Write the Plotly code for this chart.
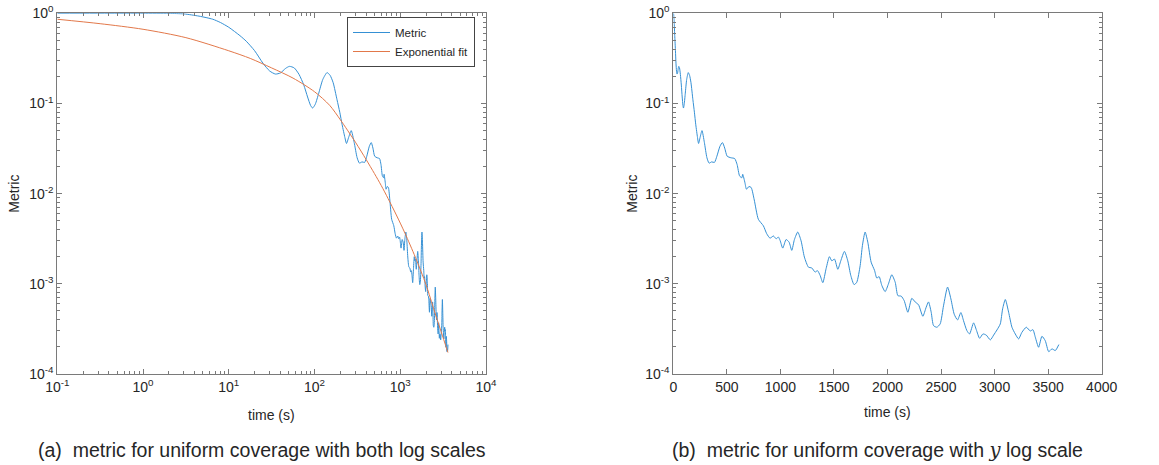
import plotly.graph_objects as go
from plotly.subplots import make_subplots

# ---------------- data ----------------
time_s = [0.1, 0.5, 1, 2, 3, 4.5, 6.5, 8, 10, 13.5, 16, 20, 25, 30, 35, 40, 46, 51, 58,
          66, 75, 83, 90, 95, 102, 112, 125, 140, 152, 165, 183, 197, 210, 226, 236, 250,
          268, 290, 314, 334, 358, 384, 407, 436, 459, 480, 503, 538, 573, 596, 619, 640,
          648, 669, 683, 706, 727, 756, 794, 841, 872, 903, 935, 960, 981, 997, 1022,
          1053, 1081, 1106, 1131, 1162, 1193, 1224, 1262, 1293, 1324, 1346, 1371, 1396,
          1427, 1458, 1480, 1505, 1536, 1564, 1598, 1629, 1657, 1688, 1713, 1745, 1766,
          1791, 1816, 1847, 1879, 1900, 1922, 1947, 1978, 2009, 2040, 2072, 2097, 2128,
          2156, 2190, 2227, 2258, 2290, 2330, 2361, 2383, 2408, 2430, 2461, 2492, 2523,
          2561, 2592, 2623, 2654, 2685, 2710, 2741, 2766, 2804, 2829, 2860, 2891, 2922,
          2960, 2991, 3022, 3053, 3075, 3100, 3131, 3162, 3193, 3224, 3255, 3296, 3333,
          3358, 3380, 3411, 3442, 3473, 3505, 3536, 3567, 3600]
metric = [1.0, 1.0, 1.0, 0.998, 0.985, 0.93, 0.86, 0.79, 0.70, 0.565, 0.49, 0.385, 0.28,
          0.229, 0.212, 0.218, 0.245, 0.258, 0.248, 0.21, 0.16, 0.118, 0.095, 0.089, 0.098,
          0.13, 0.185, 0.22, 0.205, 0.17, 0.11, 0.08, 0.058, 0.042, 0.036, 0.042, 0.05,
          0.037, 0.025, 0.0218, 0.0225, 0.0222, 0.026, 0.0336, 0.0368, 0.032, 0.026, 0.025,
          0.0245, 0.021, 0.0157, 0.015, 0.0164, 0.0132, 0.0112, 0.012, 0.0117, 0.0085,
          0.0052, 0.00440, 0.00360, 0.00321, 0.00339, 0.00316, 0.0033, 0.00303, 0.00249,
          0.0031, 0.0029, 0.00235, 0.0031, 0.00375, 0.0030, 0.00198, 0.00153, 0.0015,
          0.00135, 0.0014, 0.00124, 0.00103, 0.00148, 0.0020, 0.0018, 0.00188, 0.00145,
          0.0018, 0.00229, 0.0018, 0.00124, 0.00098, 0.00104, 0.0016, 0.00267, 0.00375,
          0.0029, 0.00174, 0.00141, 0.00116, 0.0012, 0.00096, 0.00082, 0.0010, 0.00126,
          0.00104, 0.00074, 0.00073, 0.00065, 0.000484, 0.00069, 0.00063, 0.000585,
          0.000437, 0.00055, 0.00063, 0.000484, 0.000344, 0.00033, 0.00036, 0.00057,
          0.00092, 0.00068, 0.00046, 0.000398, 0.00048, 0.00039, 0.000303, 0.000278,
          0.000369, 0.00031, 0.000249, 0.000278, 0.00027, 0.000239, 0.00027, 0.000308,
          0.000359, 0.000528, 0.00067, 0.000484, 0.00033, 0.000278, 0.000245, 0.00029,
          0.00033, 0.00030, 0.00031, 0.000256, 0.000198, 0.000262, 0.000234, 0.000177,
          0.00019, 0.000182, 0.000212]

fit_time_s = [0.1, 0.316, 1, 3.16, 10, 17.8, 31.6, 56.2, 100, 150, 200, 300, 400, 500,
              600, 720, 900, 1135, 1500, 2000, 2500, 3000, 3600]
fit_metric = [0.859, 0.767, 0.665, 0.537, 0.384, 0.316, 0.248, 0.191, 0.135, 0.0955,
              0.066, 0.0372, 0.0239, 0.0167, 0.0123, 0.00885, 0.0058, 0.00364, 0.00197,
              0.000975, 0.000499, 0.000294, 0.000173]

log_x_ticks = [0.1, 1, 10, 100, 1000, 10000]
log_x_labels = ["10<sup>-1</sup>", "10<sup>0</sup>", "10<sup>1</sup>", "10<sup>2</sup>",
                "10<sup>3</sup>", "10<sup>4</sup>"]
y_ticks = [1e-4, 1e-3, 1e-2, 1e-1, 1]
y_labels = ["10<sup>-4</sup>", "10<sup>-3</sup>", "10<sup>-2</sup>", "10<sup>-1</sup>",
            "10<sup>0</sup>"]
lin_x_ticks = [0, 500, 1000, 1500, 2000, 2500, 3000, 3500, 4000]

caption_a = "(a)\u00a0 metric for uniform coverage with both log scales"
caption_b = ("(b)\u00a0 metric for uniform coverage with "
             "<span style=\"font-family:'DejaVu Serif'\"><i>y</i></span> log scale")

# ---------------- figure ----------------
W, H = 1159, 465
BLUE = "#3590d4"
ORANGE = "#e2784a"
AX = "#7a7a7a"
TXT = "#262626"
FONT = "Liberation Sans, Arial, sans-serif"

fig = make_subplots(rows=1, cols=2)

fig.add_trace(go.Scatter(x=time_s, y=metric, mode="lines", name="Metric",
                         line=dict(color=BLUE, width=1, shape="spline", smoothing=0.6)),
              row=1, col=1)
fig.add_trace(go.Scatter(x=fit_time_s, y=fit_metric, mode="lines", name="Exponential fit",
                         line=dict(color=ORANGE, width=1, shape="spline", smoothing=0.8)),
              row=1, col=1)
fig.add_trace(go.Scatter(x=time_s, y=metric, mode="lines", name="Metric", showlegend=False,
                         line=dict(color=BLUE, width=1, shape="spline", smoothing=0.6)),
              row=1, col=2)

def px_x(p):
    return p / W

def px_y(p):
    return 1 - p / H

y_dom = [px_y(374), px_y(13.3)]
minor_log_x = [m * 10.0 ** k for k in range(-1, 4) for m in range(2, 10)]
minor_log_y = [m * 10.0 ** k for k in range(-4, 0) for m in range(2, 10)]

common = dict(showline=True, linecolor=AX, linewidth=1, mirror="allticks", ticks="inside",
              ticklen=5, tickcolor=AX, tickwidth=1, showgrid=False, zeroline=False,
              automargin=False,
              tickfont=dict(family=FONT, size=14, color=TXT))

fig.update_layout(
    xaxis=dict(type="log", range=[-1, 4], domain=[px_x(57.3), px_x(486)],
               tickvals=log_x_ticks, ticktext=log_x_labels,
               minor=dict(tickvals=minor_log_x, ticks="inside", ticklen=3, tickcolor=AX),
               **common),
    yaxis=dict(type="log", range=[-4, 0], domain=y_dom,
               tickvals=y_ticks, ticktext=y_labels,
               minor=dict(tickvals=minor_log_y, ticks="inside", ticklen=3, tickcolor=AX),
               **common),
    xaxis2=dict(type="linear", range=[0, 4000], domain=[px_x(673.3), px_x(1101.7)],
                tickvals=lin_x_ticks, **common),
    yaxis2=dict(type="log", range=[-4, 0], domain=y_dom,
                tickvals=y_ticks, ticktext=y_labels,
                minor=dict(tickvals=minor_log_y, ticks="inside", ticklen=3, tickcolor=AX),
                **common),
)

ann = []
def add_text(text, x, y, size, angle=0):
    ann.append(dict(text=text, x=px_x(x), y=px_y(y), xref="paper", yref="paper",
                    xanchor="center", yanchor="middle", showarrow=False, textangle=angle,
                    font=dict(family=FONT, size=size, color=TXT)))

add_text("Metric", 14, 193.7, 14, -90)
add_text("Metric", 632, 193.7, 14, -90)
add_text("time (s)", 271.7, 415, 14)
add_text("time (s)", 887.5, 412, 14)
add_text(caption_a, 261.7, 450, 19.5)
add_text(caption_b, 878, 450, 19.5)

fig.update_layout(
    width=W, height=H, margin=dict(l=0, r=0, t=0, b=0, pad=0, autoexpand=False),
    paper_bgcolor="white", plot_bgcolor="white",
    annotations=ann,
    font=dict(family=FONT, color=TXT),
    legend=dict(x=px_x(475), xanchor="right", y=px_y(17), yanchor="top",
                bgcolor="white", bordercolor="#444444", borderwidth=1,
                font=dict(family=FONT, size=11.5, color=TXT),
                itemwidth=37, tracegroupgap=0),
)

fig.write_html("out.html")
